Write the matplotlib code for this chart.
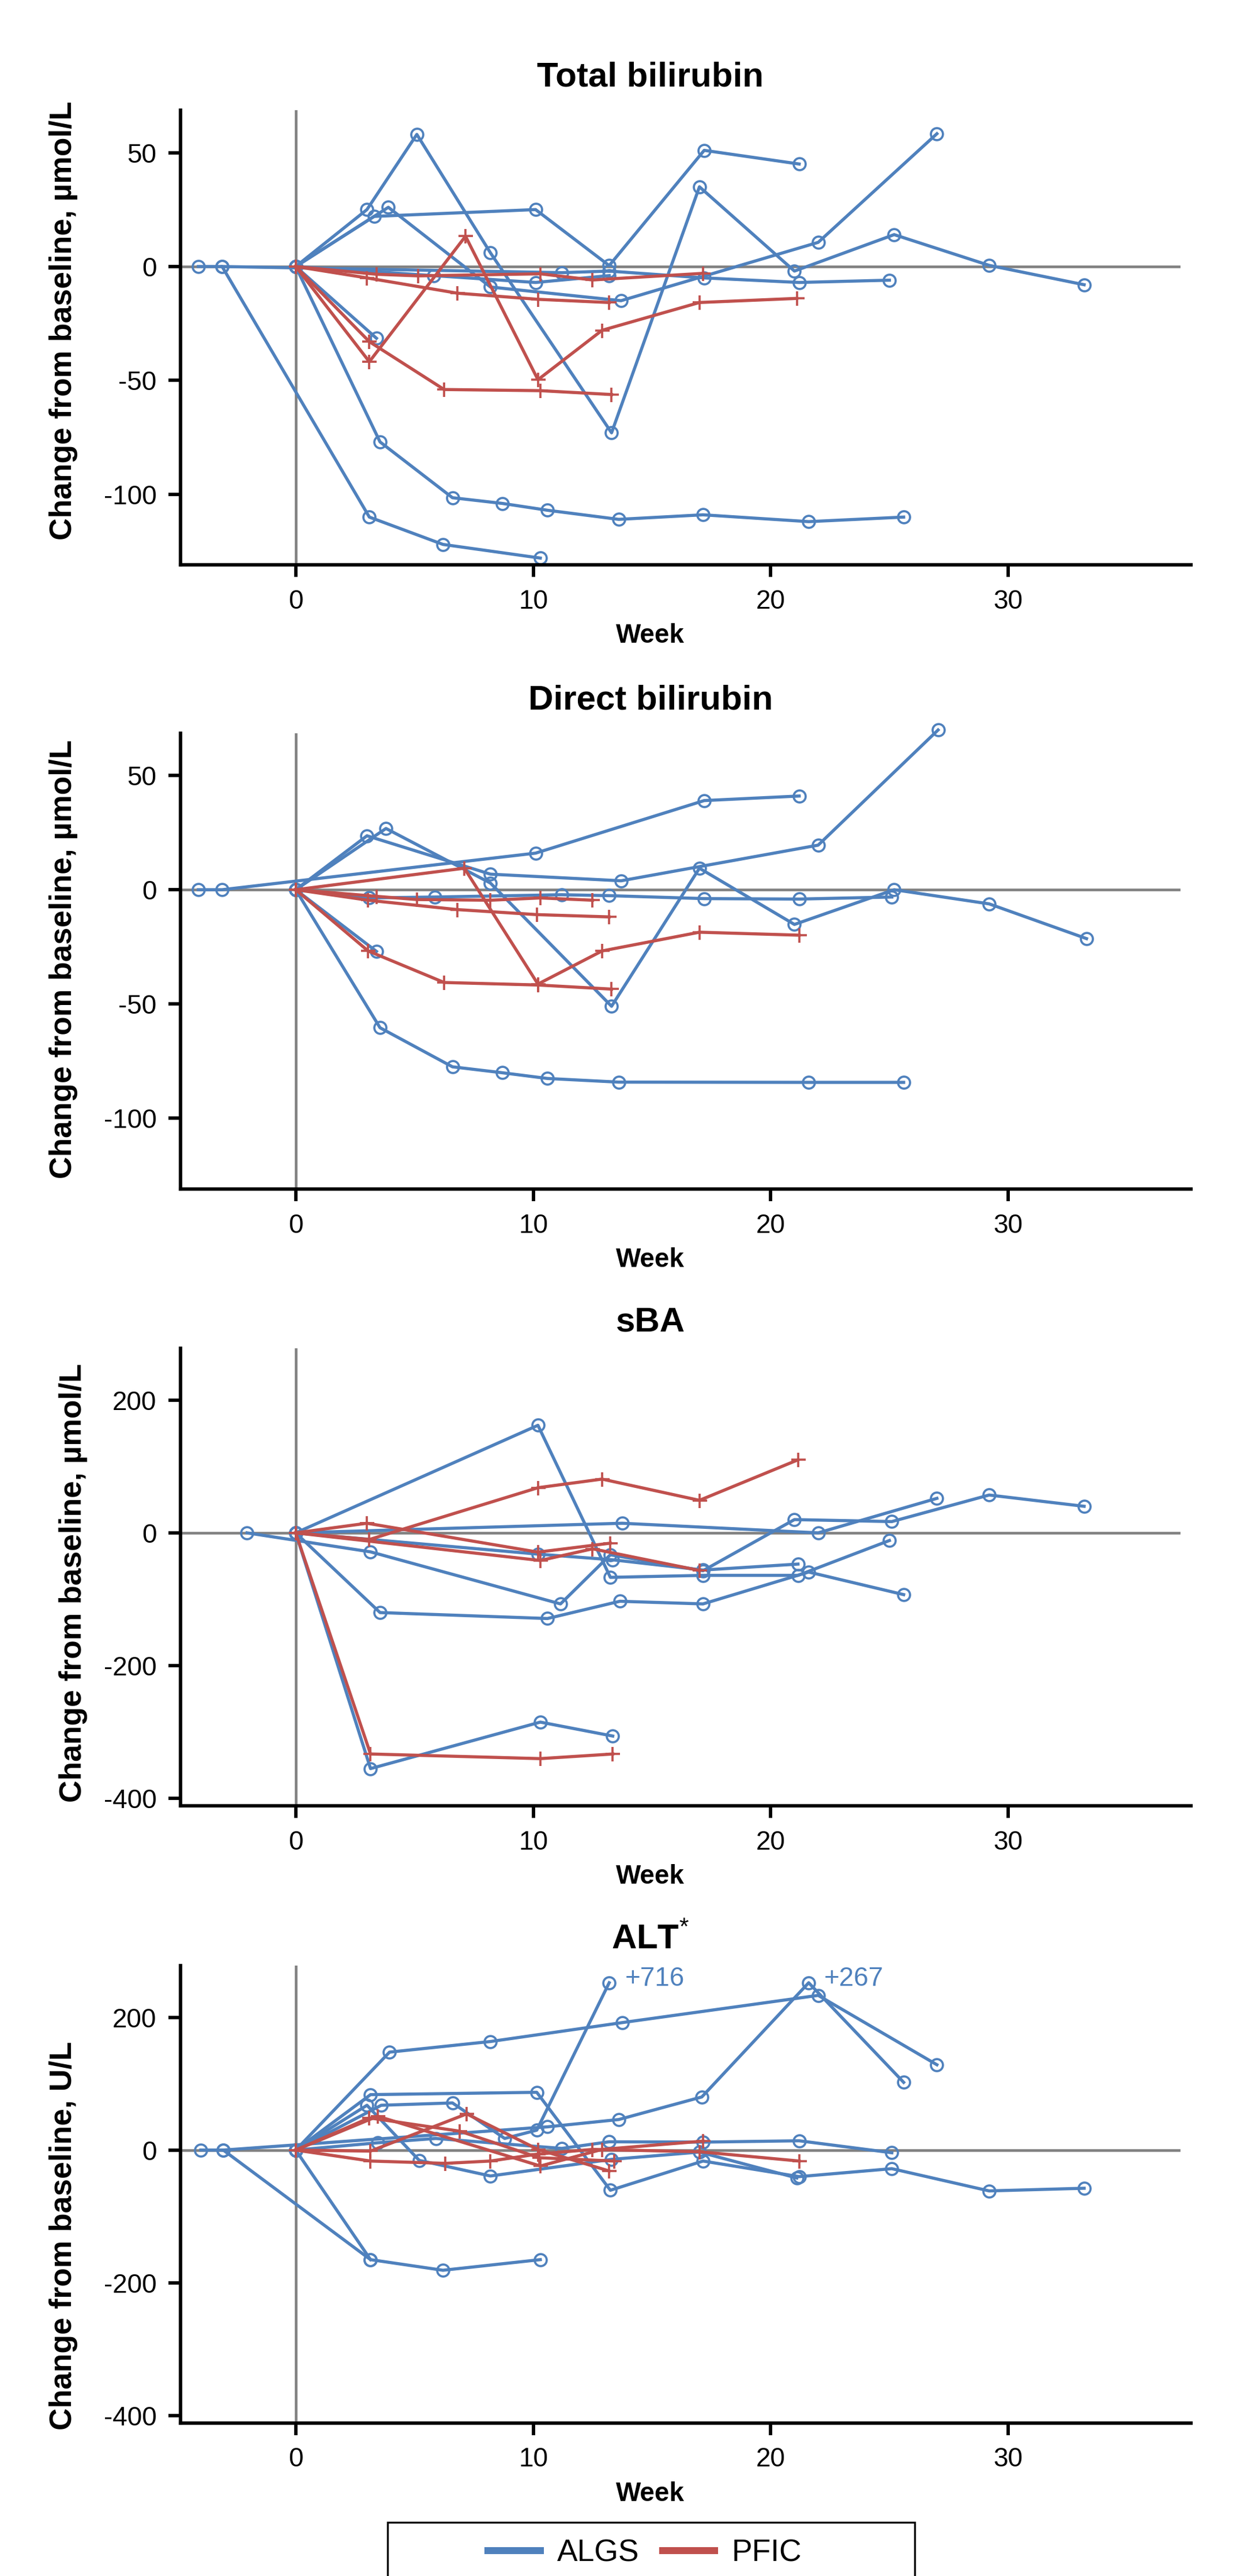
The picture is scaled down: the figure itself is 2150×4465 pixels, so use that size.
import matplotlib
matplotlib.use("Agg")
import matplotlib.pyplot as plt
from matplotlib.lines import Line2D
from matplotlib.patches import Rectangle

plt.rcParams['font.family'] = ['Liberation Sans', 'DejaVu Sans']
plt.rcParams['axes.unicode_minus'] = False
plt.rcParams['mathtext.fontset'] = 'custom'
plt.rcParams['mathtext.rm'] = 'Liberation Sans'
plt.rcParams['mathtext.bf'] = 'Liberation Sans:bold'

ALGS_COLOR = '#4F81BD'
PFIC_COLOR = '#C0504D'
REF_GRAY = '#808080'

# ---- Total bilirubin (change from baseline, umol/L) ----
tbil_algs_weeks = [
    [-4.1, -3.1, 3.1, 6.2, 10.3],
    [-3.1, 11.2, 13.2, 17.2, 21.2, 25.0],
    [0, 3.0, 5.1, 8.2, 13.3, 17.0, 21.0, 25.2, 29.2, 33.2],
    [0, 3.3, 10.1, 13.2, 17.2, 21.2],
    [0, 3.9, 8.2, 13.7, 22.0, 27.0],
    [0, 3.4],
    [0, 3.55, 6.6, 8.7, 10.6, 13.6, 17.15, 21.6, 25.6],
    [0, 5.8, 10.1, 13.2],
]
tbil_algs_values = [
    [0, 0, -110, -122, -128],
    [0, -2.7, -2, -5, -7, -6],
    [0, 25, 58, 6, -73, 35, -2, 14, 0.5, -8],
    [0, 22, 25, 0.4, 51, 45],
    [0, 26, -9, -15, 10.6, 58.3],
    [0, -31.5],
    [0, -77, -101.5, -104, -107, -111, -109, -112, -110],
    [0, -4, -7, -4],
]
tbil_pfic_weeks = [
    [0, 3.1, 7.15, 10.2, 12.9, 17.0, 21.1],
    [0, 3.1, 6.25, 10.3, 13.3],
    [0, 3.0, 6.8, 10.2, 13.2],
    [0, 3.4, 5.15, 10.3, 12.5, 17.15],
]
tbil_pfic_values = [
    [0, -41.8, 13.3, -49.7, -28, -15.8, -14],
    [0, -33, -54, -54.5, -56.2],
    [0, -5, -11.7, -14.4, -15.8],
    [0, -3.4, -4.1, -3.2, -5.9, -3],
]

# ---- Direct bilirubin (change from baseline, umol/L) ----
dbil_algs_weeks = [
    [-4.1, -3.1, 10.1, 17.2, 21.2],
    [0, 3.0, 8.2, 13.7, 22.0, 27.05],
    [0, 3.8, 8.2, 13.3, 17.0, 21.0, 25.2, 29.2, 33.3],
    [0, 3.4],
    [0, 3.55, 6.6, 8.7, 10.6, 13.6, 21.6, 25.6],
    [0, 3.1, 5.85, 11.2, 13.2, 17.2, 21.2, 25.1],
]
dbil_algs_values = [
    [0, 0, 16, 39, 41],
    [0, 23.6, 6.8, 3.9, 19.5, 69.9],
    [0, 26.8, 2.9, -51, 9.4, -15.2, 0, -6.2, -21.4],
    [0, -27],
    [0, -60.4, -77.5, -80.1, -82.6, -84.2, -84.3, -84.3],
    [0, -3.6, -3.2, -2.2, -2.6, -3.9, -4.1, -3.2],
]
dbil_pfic_weeks = [
    [0, 7.1, 10.2, 12.9, 17.0, 21.2],
    [0, 3.05, 6.25, 10.2, 13.3],
    [0, 3.05, 6.8, 10.15, 13.2],
    [0, 3.4, 5.1, 8.2, 10.3, 12.5],
]
dbil_pfic_values = [
    [0, 9.4, -41.3, -26.8, -18.6, -19.9],
    [0, -26.8, -40.6, -41.7, -43.5],
    [0, -4.6, -8.7, -10.9, -11.9],
    [0, -2.9, -4.3, -4.6, -3.6, -4.6],
]

# ---- sBA (change from baseline, umol/L) ----
sba_algs_weeks = [
    [0, 3.15, 10.3, 13.35],
    [0, 3.55, 10.6, 13.65, 17.15, 21.6, 25.6],
    [0, 10.2, 13.25, 17.15, 21.15, 25.0],
    [-2.05, 3.15, 11.15, 13.25, 17.15, 21.0, 25.1, 29.2, 33.2],
    [0, 13.75, 22.0, 27.0],
    [0, 10.2, 13.35, 17.15, 21.15],
]
sba_algs_values = [
    [0, -355, -285, -306],
    [0, -120, -129, -103, -107, -59, -93],
    [0, 162, -67, -64, -64, -11.5],
    [0, -28.6, -107, -33, -57, 20, 17, 57, 40],
    [0, 14.5, 0, 52],
    [0, -32, -40.6, -56, -47],
]
sba_pfic_weeks = [
    [0, 3.15, 10.3, 13.35],
    [0, 3.1, 10.2, 12.9, 17.0, 21.15],
    [0, 3.0, 10.2, 13.25],
    [0, 10.3, 12.5, 17.0],
]
sba_pfic_values = [
    [0, -333, -340, -333],
    [0, -10, 68, 81, 49, 110],
    [0, 14.5, -29, -15.5],
    [0, -41.6, -24, -56.6],
]

# ---- ALT (change from baseline, U/L) ----
alt_algs_weeks = [
    [-4.0, -3.05, 3.15, 6.2, 10.3],
    [-3.05, 10.6, 13.6, 17.1, 21.6, 25.6],
    [0, 3.95, 8.2, 13.75, 22.0, 27.0],
    [0, 3.15, 10.15, 13.25, 17.15, 21.2, 25.1, 29.2, 33.2],
    [0, 3.6, 6.6, 8.8, 10.15, 13.2],
    [0, 3.0, 5.2, 8.2, 13.3, 17.0, 21.1],
    [0, 3.45, 5.9, 11.2, 13.2, 17.15, 21.2, 25.1],
    [0, 3.15],
]
alt_algs_values = [
    [0, 0, -165, -181, -165],
    [0, 35, 46, 80, 252, 102],
    [0, 147.5, 163.5, 192, 233, 128.5],
    [0, 83.5, 87, -60.5, -16.5, -40, -28, -61.5, -57.5],
    [0, 67.5, 71, 17.5, 30, 252],
    [0, 67.5, -15.5, -39, -14, -3, -42],
    [0, 11, 17.5, 2.5, 12.5, 12, 14, -4],
    [0, -165],
]
alt_pfic_weeks = [
    [0, 3.1, 6.9, 10.25, 13.4],
    [0, 3.45, 10.3, 12.9, 17.15],
    [0, 3.15, 7.2, 10.2, 13.2],
    [0, 3.15, 6.3, 8.2, 10.2, 12.5, 17.0, 21.2],
]
alt_pfic_values = [
    [0, 48.5, 28.5, -11.5, -16.5],
    [0, 51, -24, 1, 13.5],
    [0, -1.5, 54.5, 1, -31.5],
    [0, -16.5, -20, -16.5, -6, 1, -2.5, -16.5],
]
# values above the axis are capped and labelled with their true change
alt_note_texts = ['+716', '+267']
alt_note_weeks = [13.2, 21.6]
alt_note_values = [252, 252]

small_ticks = [50, 0, -50, -100]
large_ticks = [200, 0, -200, -400]
week_ticks = [0, 10, 20, 30]


def draw_panel(ax, algs_w, algs_v, pfic_w, pfic_v, title, ylabel, ylim, yticks,
               title_pad, ylabel_pos):
    """ Draw one spaghetti panel of change from baseline per patient. """
    ax.axvline(0, color=REF_GRAY, lw=1.1, zorder=1)
    ax.axhline(0, xmax=0.988, color=REF_GRAY, lw=1.1, zorder=1)
    for w, v in zip(algs_w, algs_v):
        ax.plot(w, v, color=ALGS_COLOR, lw=1.3, marker='o', markersize=5,
                markerfacecolor='none', markeredgewidth=0.9, zorder=2, clip_on=False)
    for w, v in zip(pfic_w, pfic_v):
        ax.plot(w, v, color=PFIC_COLOR, lw=1.3, marker='+', markersize=6,
                markeredgewidth=0.9, zorder=3, clip_on=False)

    ax.set_xlim(-4.85, 37.7)
    ax.set_ylim(*ylim)
    ax.set_xticks(week_ticks)
    ax.set_yticks(yticks)
    for side in ['top', 'right']:
        ax.spines[side].set_visible(False)
    for side in ['left', 'bottom']:
        ax.spines[side].set_linewidth(1.4)
    ax.tick_params(direction='out', length=5, width=1.4, pad=5, labelsize=11)

    ax.set_title(title, x=0.465, pad=title_pad, fontsize=14.4, fontweight='bold')
    ax.set_xlabel('Week', fontsize=11, fontweight='bold')
    ax.xaxis.set_label_coords(0.465, -0.128)
    ax.set_ylabel(ylabel, fontsize=12.8, fontweight='bold')
    ax.yaxis.set_label_coords(*ylabel_pos)


fig = plt.figure(figsize=(2150 / 300, 4465 / 300), dpi=300)

ax1 = fig.add_axes([0.1456, 0.7807, 0.8149, 0.1765])
ax2 = fig.add_axes([0.1456, 0.5384, 0.8149, 0.1769])
ax3 = fig.add_axes([0.1456, 0.2990, 0.8149, 0.1776])
ax4 = fig.add_axes([0.1456, 0.0594, 0.8149, 0.1776])

draw_panel(ax1, tbil_algs_weeks, tbil_algs_values, tbil_pfic_weeks, tbil_pfic_values,
           'Total bilirubin', 'Change from baseline, µmol/L', (-131, 68.6),
           small_ticks, 10, (-0.1016, 0.537))
draw_panel(ax2, dbil_algs_weeks, dbil_algs_values, dbil_pfic_weeks, dbil_pfic_values,
           'Direct bilirubin', 'Change from baseline, µmol/L', (-131, 68.4),
           small_ticks, 10, (-0.1016, 0.505))
draw_panel(ax3, sba_algs_weeks, sba_algs_values, sba_pfic_weeks, sba_pfic_values,
           'sBA', 'Change from baseline, µmol/L', (-411, 278),
           large_ticks, 7, (-0.092, 0.487))
draw_panel(ax4, alt_algs_weeks, alt_algs_values, alt_pfic_weeks, alt_pfic_values,
           r'ALT$^{*}$', 'Change from baseline, U/L', (-411, 278),
           large_ticks, 7, (-0.1016, 0.409))

for txt, w, v in zip(alt_note_texts, alt_note_weeks, alt_note_values):
    ax4.annotate(txt, xy=(w, v), xytext=(6.5, 1.5), textcoords='offset points',
                 color=ALGS_COLOR, fontsize=11, ha='left', va='center')

# legend box runs off the bottom edge like in the original export
fig.add_artist(Rectangle((672 / 2150, -0.02), (1586 - 672) / 2150, 0.02 + 93 / 4465,
                         transform=fig.transFigure, fill=False, ec='black', lw=0.8))
handles = [Line2D([0], [0], color=ALGS_COLOR, lw=2.9),
           Line2D([0], [0], color=PFIC_COLOR, lw=2.9)]
fig.legend(handles, ['ALGS', 'PFIC'], loc='center', bbox_to_anchor=(1118 / 2150, 1 - 4426 / 4465),
           ncol=2, frameon=False, fontsize=12.8, handlelength=1.7,
           handletextpad=0.55, columnspacing=0.75)

fig.savefig('out.png', dpi=300)
